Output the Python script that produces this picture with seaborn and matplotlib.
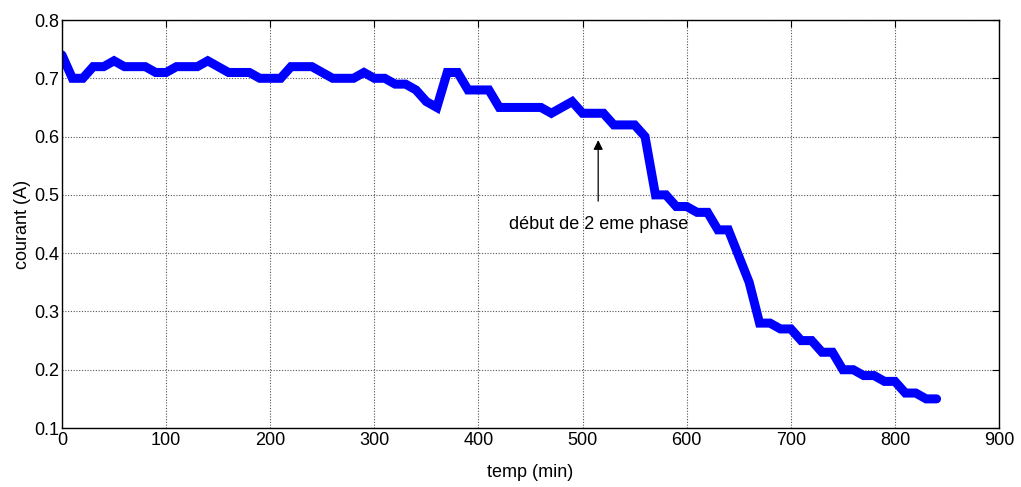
import matplotlib
matplotlib.use("Agg")
import matplotlib.pyplot as plt
import seaborn as sns
import pandas as pd

# Measured discharge current over time
temps = [0, 10, 20, 30, 40, 50, 60, 70, 80, 90,
         100, 110, 120, 130, 140, 150, 160, 170, 180, 190,
         200, 210, 220, 230, 240, 250, 260, 270, 280, 290,
         300, 310, 320, 330, 340, 350, 360, 370, 380, 390,
         400, 410, 420, 430, 440, 450, 460, 470, 480, 490,
         500, 510, 520, 530, 540, 550, 560, 570, 580, 590,
         600, 610, 620, 630, 640, 650, 660, 670, 680, 690,
         700, 710, 720, 730, 740, 750, 760, 770, 780, 790,
         800, 810, 820, 830, 840]
courant = [0.74, 0.70, 0.70, 0.72, 0.72, 0.73, 0.72, 0.72, 0.72, 0.71,
           0.71, 0.72, 0.72, 0.72, 0.73, 0.72, 0.71, 0.71, 0.71, 0.70,
           0.70, 0.70, 0.72, 0.72, 0.72, 0.71, 0.70, 0.70, 0.70, 0.71,
           0.70, 0.70, 0.69, 0.69, 0.68, 0.66, 0.65, 0.71, 0.71, 0.68,
           0.68, 0.68, 0.65, 0.65, 0.65, 0.65, 0.65, 0.64, 0.65, 0.66,
           0.64, 0.64, 0.64, 0.62, 0.62, 0.62, 0.60, 0.50, 0.50, 0.48,
           0.48, 0.47, 0.47, 0.44, 0.44, 0.395, 0.35, 0.28, 0.28, 0.27,
           0.27, 0.25, 0.25, 0.23, 0.23, 0.20, 0.20, 0.19, 0.19, 0.18,
           0.18, 0.16, 0.16, 0.15, 0.15]

x_ticks = [0, 100, 200, 300, 400, 500, 600, 700, 800, 900]
y_ticks = [0.1, 0.2, 0.3, 0.4, 0.5, 0.6, 0.7, 0.8]
y_tick_labels = ["0.1", "0.2", "0.3", "0.4", "0.5", "0.6", "0.7", "0.8"]

annot_text = "début de 2 eme phase"
annot_x = 515
annot_tip = 0.594
annot_text_y = 0.45

df = pd.DataFrame({"temp": temps, "courant": courant})

sns.set_theme(style="white")
plt.rcParams["font.family"] = ["Liberation Sans", "DejaVu Sans"]
plt.rcParams["text.color"] = "black"
plt.rcParams["axes.labelcolor"] = "black"

fig = plt.figure(figsize=(10.21, 4.87), dpi=100)
ax = fig.add_axes([0.0607, 0.1211, 0.9178, 0.8378])

sns.lineplot(data=df, x="temp", y="courant", ax=ax, color="#0000ff",
             linewidth=6.5, solid_joinstyle="miter", errorbar=None)

ax.set_xlim(0, 900)
ax.set_ylim(0.1, 0.8)
ax.set_xticks(x_ticks)
ax.set_yticks(y_ticks)
ax.set_yticklabels(y_tick_labels)
ax.grid(True, color="#555555", linestyle=(0, (1, 1.5)), linewidth=0.8)
ax.tick_params(direction="in", length=5, width=0.8, labelsize=13,
               colors="black", top=True, right=True, pad=2)
ax.tick_params(axis="x", pad=3)
for sp in ax.spines.values():
    sp.set_color("black")
    sp.set_linewidth(1.0)

ax.set_xlabel("temp (min)", fontsize=13, labelpad=11, color="black")
ax.set_ylabel("courant (A)", fontsize=13, labelpad=2, color="black")

ax.annotate(annot_text, xy=(annot_x, annot_tip), xytext=(annot_x, annot_text_y),
            ha="center", va="center", fontsize=13, color="black",
            arrowprops=dict(arrowstyle="-|>", color="black", lw=0.9,
                            mutation_scale=14, shrinkA=8, shrinkB=0))

fig.savefig("out.png", dpi=100)
